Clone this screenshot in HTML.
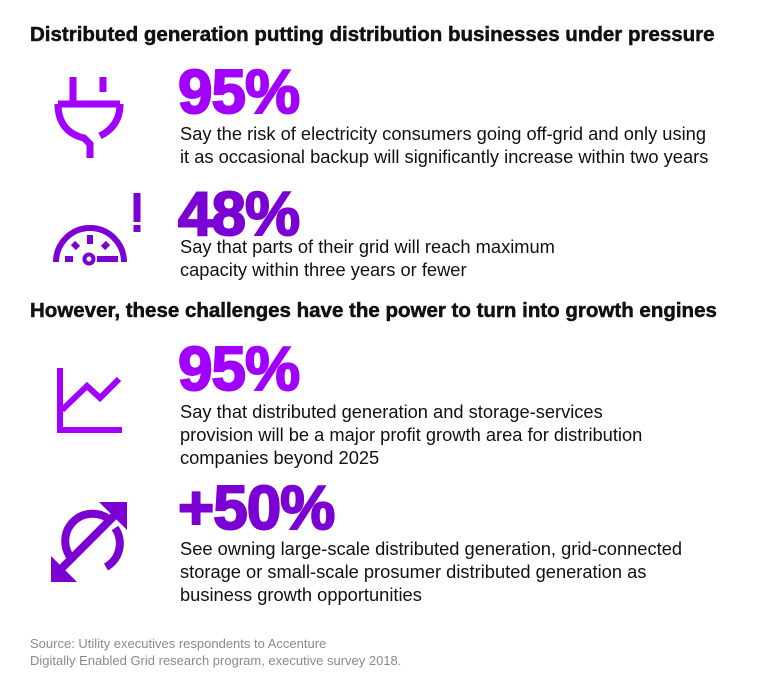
<!DOCTYPE html>
<html><head><style>
body{margin:0;width:770px;height:687px;background:#fff;font-family:"Liberation Sans",sans-serif;position:relative;overflow:hidden;color:#111}
.a{position:absolute;white-space:nowrap}
.h{font-weight:bold;font-size:20.5px;left:30px;letter-spacing:0px;-webkit-text-stroke:0.5px #111}
.n{font-weight:900;font-size:62px;left:178px;letter-spacing:-1px;line-height:1;-webkit-text-stroke:2px currentColor}
.t{font-size:18.3px;left:180px;line-height:23px}
.s{font-size:13px;color:#8a8a8a;left:30px;line-height:17px}
</style></head><body>
<div class="a h" style="top:23px">Distributed generation putting distribution businesses under pressure</div>
<div class="a n" style="top:62px;color:#a100ff">95%</div>
<div class="a t" style="top:122px">Say the risk of electricity consumers going off-grid and only using<br>it as occasional backup will significantly increase within two years</div>
<div class="a n" style="top:184px;color:#7b00d4">48%</div>
<div class="a t" style="top:235px">Say that parts of their grid will reach maximum<br>capacity within three years or fewer</div>
<div class="a h" style="top:299px">However, these challenges have the power to turn into growth engines</div>
<div class="a n" style="top:339px;color:#a100ff">95%</div>
<div class="a t" style="top:400px">Say that distributed generation and storage-services<br>provision will be a major profit growth area for distribution<br>companies beyond 2025</div>
<div class="a n" style="top:478px;color:#7b00d4">+50%</div>
<div class="a t" style="top:537px">See owning large-scale distributed generation, grid-connected<br>storage or small-scale prosumer distributed generation as<br>business growth opportunities</div>
<div class="a s" style="top:635px">Source: Utility executives respondents to Accenture<br>Digitally Enabled Grid research program, executive survey 2018.</div>
<svg class="a" style="left:0;top:0" width="770" height="687">
<g fill="none" stroke="#a100ff" stroke-width="7">
<path d="M73 77V103M103 77V92"/>
<path d="M58 104H120 M58 104C58 125 70 135 84 138 L90 144V158 M120 104C120 120 112 130 100 136"/>
</g>
<g fill="none" stroke="#7b00d4" stroke-width="6">
<path d="M56 262A34 34 0 0 1 124 262"/>
<path d="M137 193V222" stroke-width="7"/>
<path d="M137 225V232" stroke-width="7"/>
<path d="M90 235V244M73 243L78 248M108 243L103 248M65 259H73M97 259H118"/>
<circle cx="89" cy="259" r="4.5" stroke-width="4"/>
</g>
<g fill="none" stroke="#a100ff" stroke-width="6">
<path d="M60 368V430H122M62 410L87 386L100 398L119 379"/>
</g>
<g fill="none" stroke="#7b00d4" stroke-width="8">
<path d="M74 561A27 27 0 0 1 111 521" />
<path d="M106 567A27 27 0 0 0 115 528" />
<path d="M56 574L122 508"/>
</g>
<path d="M127 502V530L99 502Z M51 582V556L77 582Z" fill="#7b00d4"/>
</svg>
</body></html>
